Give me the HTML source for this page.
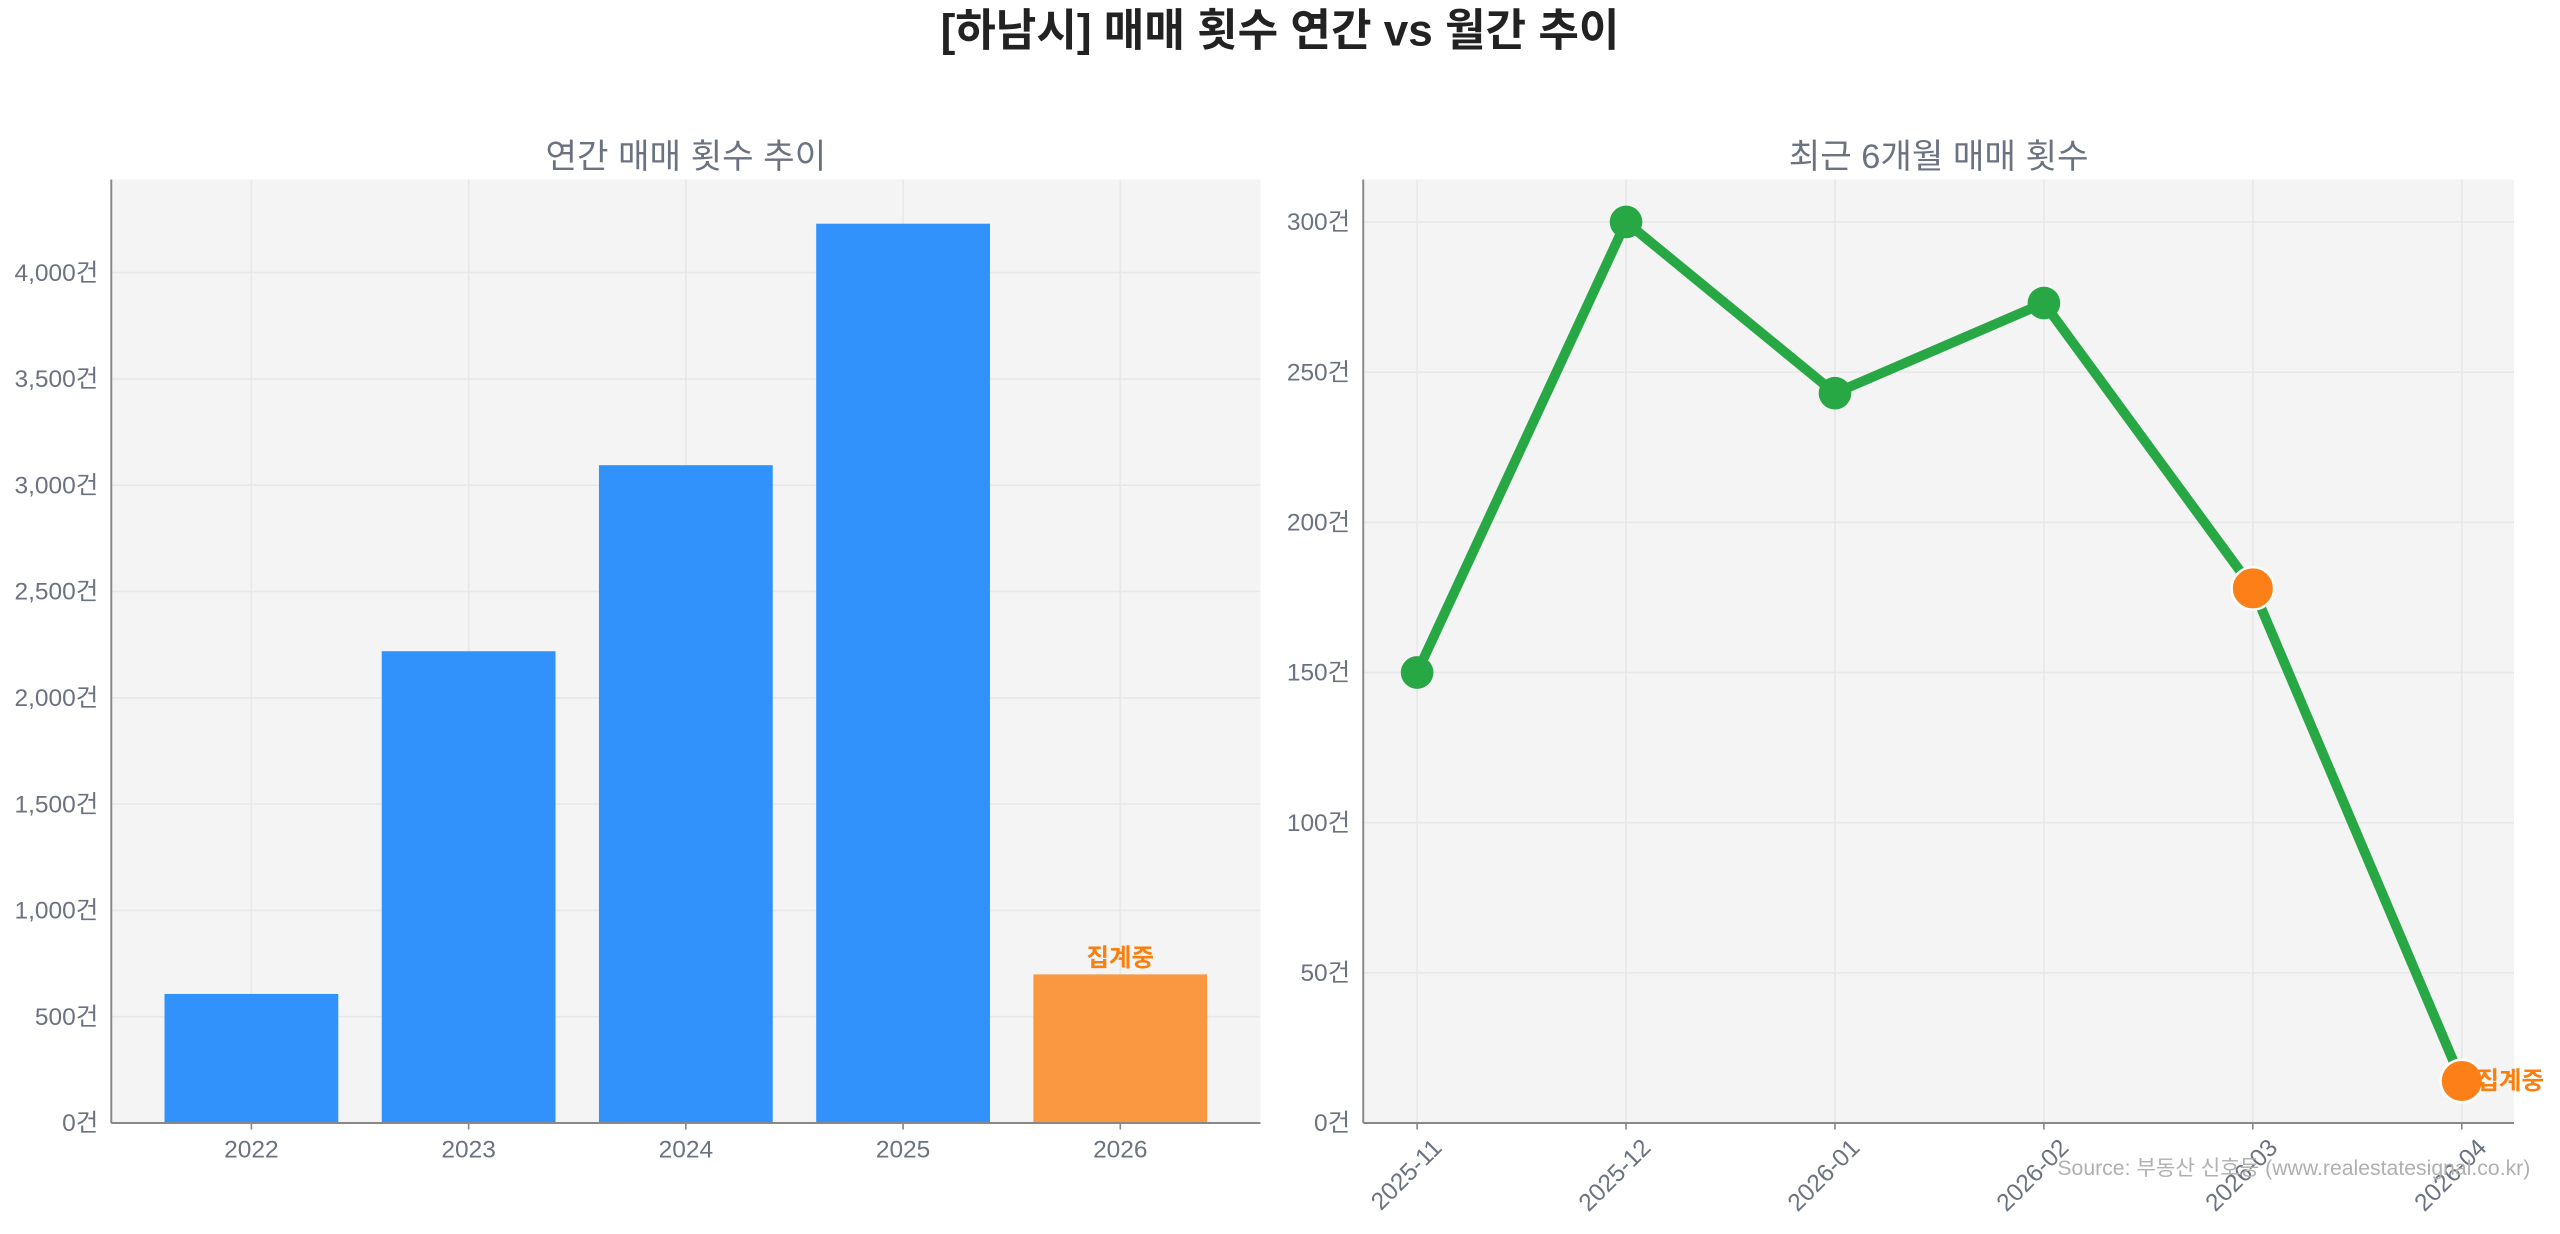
<!DOCTYPE html>
<html><head><meta charset="utf-8"><style>
html,body{margin:0;padding:0;background:#fff;}
svg{display:block;font-family:"Liberation Sans","Noto Sans CJK KR",sans-serif;}
</style></head><body>
<svg id="c" width="2560" height="1234" viewBox="0 0 1568 756" xmlns="http://www.w3.org/2000/svg">
<text x="784" y="28" text-anchor="middle" font-size="27" font-weight="bold" fill="#222">[하남시] 매매 횟수 연간 vs 월간 추이</text>
<g id="left"></g>
<g id="right"></g>
<text x="1550" y="720" text-anchor="end" font-size="13" fill="#b0b0b0">Source: 부동산 신호등 (www.realestatesignal.co.kr)</text>
</svg>
<script>
const years = ['2022','2023','2024','2025','2026'];
const annualValues = [607, 2219, 3094, 4230, 699];
const annualTicks = [0,500,1000,1500,2000,2500,3000,3500,4000];
const months = ['2025-11','2025-12','2026-01','2026-02','2026-03','2026-04'];
const monthlyValues = [150, 300, 243, 273, 178, 14];
const monthlyTicks = [0,50,100,150,200,250,300];

const NS='http://www.w3.org/2000/svg';
function mk(parent,tag,attrs,text){const e=document.createElementNS(NS,tag);for(const k in attrs)e.setAttribute(k,attrs[k]);if(text!==undefined)e.textContent=text;parent.appendChild(e);return e;}
const gray='#6b7280';
const gridC='#e8e8e8';

// LEFT
(function(){
 const g=document.getElementById('left');
 const L=68,R=772,T=110,B=688;
 const x=i=>L+(i+0.645)*(R-L)/5.29;
 const y=v=>B-v*(B-167)/4000;
 const bg=mk(g,'rect',{x:L,y:T,width:R-L,height:B-T,fill:'#f4f4f4'});
 
 
 annualTicks.forEach(t=>{
  const gl=mk(g,'line',{x1:L,x2:R,y1:y(t),y2:y(t),stroke:gridC,'stroke-width':1});
  
  
  const tl=mk(g,'text',{x:L-8,y:y(t)+5,'text-anchor':'end','font-size':15,fill:gray},t.toLocaleString('en-US')+'건');
  
  
 });
 years.forEach((yr,i)=>{
  const gl=mk(g,'line',{x1:x(i),x2:x(i),y1:T,y2:B,stroke:gridC,'stroke-width':1});
  
  
 });
 const bw=0.8*(R-L)/5.29;
 years.forEach((yr,i)=>{
  const last=i===years.length-1;
  const b=mk(g,'rect',{x:x(i)-bw/2,y:y(annualValues[i]),width:bw,height:B-y(annualValues[i]),fill:last?'#f99841':'#3092fa'});
  
  
  const tl=mk(g,'text',{x:x(i),y:B+21,'text-anchor':'middle','font-size':15,fill:gray},yr);
  
  
  mk(g,'line',{x1:x(i),x2:x(i),y1:B,y2:B+4,stroke:'#888'});
  if(last){
   const a=mk(g,'text',{x:x(i),y:y(annualValues[i])-5,'text-anchor':'middle','font-size':15,'font-weight':'bold',fill:'#f97f0e'},'집계중');
   
   
  }
 });
 mk(g,'line',{x1:L,x2:L,y1:T,y2:B,stroke:'#888','stroke-width':1.2});
 mk(g,'line',{x1:L,x2:R,y1:B,y2:B,stroke:'#888','stroke-width':1.2});
 const t=mk(g,'text',{x:(L+R)/2,y:103,'text-anchor':'middle','font-size':21,fill:gray},'연간 매매 횟수 추이');
 
 
})();

// RIGHT
(function(){
 const g=document.getElementById('right');
 const L=835,R=1540,T=110,B=688;
 const x=i=>868+i*128;
 const y=v=>B-v*(B-136)/300;
 const bg=mk(g,'rect',{x:L,y:T,width:R-L,height:B-T,fill:'#f4f4f4'});
 
 
 monthlyTicks.forEach(t=>{
  const gl=mk(g,'line',{x1:L,x2:R,y1:y(t),y2:y(t),stroke:gridC,'stroke-width':1});
  
  
  const tl=mk(g,'text',{x:L-8,y:y(t)+5,'text-anchor':'end','font-size':15,fill:gray},t+'건');
  
  
 });
 months.forEach((m,i)=>{
  const gl=mk(g,'line',{x1:x(i),x2:x(i),y1:T,y2:B,stroke:gridC,'stroke-width':1});
  
  
  mk(g,'line',{x1:x(i),x2:x(i),y1:B,y2:B+4,stroke:'#888'});
  const ax=x(i)+16, ay=B+16;
  const tl=mk(g,'text',{x:ax,y:ay,'text-anchor':'end','font-size':15,fill:gray,transform:`rotate(-45 ${ax} ${ay})`},m);
  
  
 });
 const pts=monthlyValues.map((v,i)=>x(i)+','+y(v)).join(' ');
 const ln=mk(g,'polyline',{points:pts,fill:'none',stroke:'#28a745','stroke-width':6,'stroke-linejoin':'round'});
 
 
 monthlyValues.forEach((v,i)=>{
  const recent=i>=monthlyValues.length-2;
  const c=mk(g,'circle',{cx:x(i),cy:y(v),r:recent?13:10,fill:recent?'#fd7f17':'#28a745',stroke:recent?'#fff':'none','stroke-width':1.5});
  
  
 });
 const li=monthlyValues.length-1;
 const a=mk(g,'text',{x:x(li)+9,y:y(monthlyValues[li])+5,'font-size':15,'font-weight':'bold',fill:'#f97f0e'},'집계중');
 
 
 mk(g,'line',{x1:L,x2:L,y1:T,y2:B,stroke:'#888','stroke-width':1.2});
 mk(g,'line',{x1:L,x2:R,y1:B,y2:B,stroke:'#888','stroke-width':1.2});
 const t=mk(g,'text',{x:(L+R)/2,y:103,'text-anchor':'middle','font-size':21,fill:gray},'최근 6개월 매매 횟수');
 
 
})();
</script>
</body></html>
